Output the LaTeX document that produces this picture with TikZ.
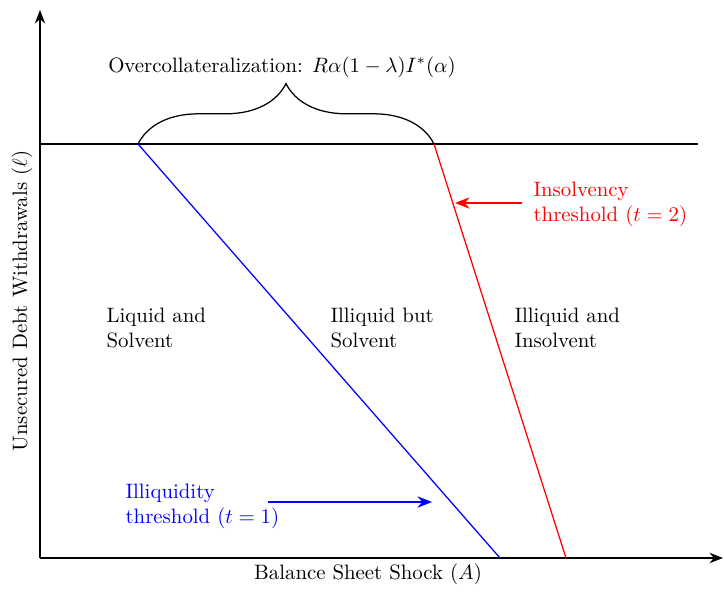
\documentclass[tikz,border=0pt]{standalone}
\usetikzlibrary{arrows.meta,decorations.pathreplacing}
\begin{document}
\begin{tikzpicture}[x=0.48pt,y=-0.48pt,line width=0.6pt,
  axis/.style={-{Stealth[length=6.5pt,width=5pt]}},
  ptr/.style={thick,-{Stealth[length=7pt,width=5.5pt]}},
  lbl/.style={inner sep=0pt,anchor=west,align=left,font=\normalsize}]
\useasboundingbox (0,0) rectangle (724,591);
\coordinate (O) at (40,558);
\coordinate (ytop) at (40,10);
\coordinate (xend) at (723,558);
\coordinate (hl) at (40,144);
\coordinate (hr) at (698,144);
\coordinate (b1) at (138,144);
\coordinate (b2) at (500,558);
\coordinate (r1) at (434,144);
\coordinate (r2) at (566,558);
\draw[axis] (O) -- (ytop);
\draw[axis] (O) -- (xend);
\draw (hl) -- (hr);
\draw[blue] (b1) -- (b2);
\draw[red] (r1) -- (r2);
\draw[decorate,decoration={brace,amplitude=29pt}] (b1) -- (r1);
\node[inner sep=0pt] (oc) at (282,67) {Overcollateralization: $R\alpha(1-\lambda)I^*(\alpha)$};
\node[lbl,text=red] (ins) at (533,204) {Insolvency\\threshold $(t=2)$};
\coordinate (ra1) at (522,203);
\coordinate (ra2) at (455,203);
\draw[ptr,red] (ra1) -- (ra2);
\node[lbl] (ls) at (106,328) {Liquid and\\Solvent};
\node[lbl] (ibs) at (330,328) {Illiquid but\\Solvent};
\node[lbl] (ii) at (514,328) {Illiquid and\\Insolvent};
\node[lbl,text=blue] (ill) at (125,506) {Illiquidity\\threshold $(t=1)$};
\coordinate (ba1) at (268,502);
\coordinate (ba2) at (432,502);
\draw[ptr,blue] (ba1) -- (ba2);
\node[inner sep=0pt] (xl) at (368,574) {Balance Sheet Shock $(A)$};
\node[inner sep=0pt,rotate=90] (yl) at (22,301) {Unsecured Debt Withdrawals $(\ell)$};
\end{tikzpicture}
\end{document}
